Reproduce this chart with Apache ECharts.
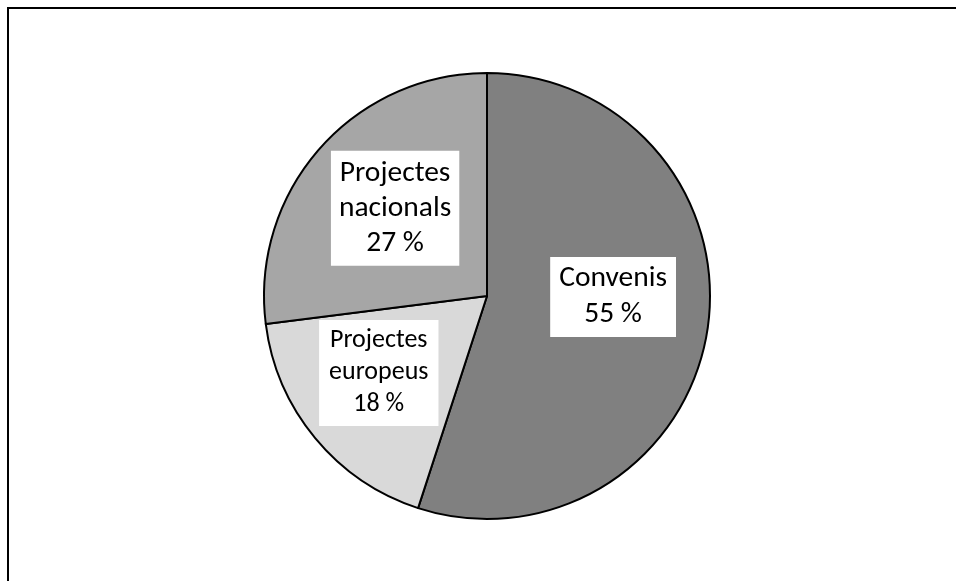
<!DOCTYPE html>
<html>
<head>
<meta charset="utf-8">
<script src="https://cdn.jsdelivr.net/npm/echarts@6/dist/echarts.min.js"></script>
<style>
html,body{margin:0;padding:0;background:#fff;}
#chart{width:956px;height:581px;}
</style>
</head>
<body>
<div id="chart"></div>
<script>
const categories = ['Convenis', 'Projectes europeus', 'Projectes nacionals'];
const labelTexts = ['Convenis', 'Projectes\neuropeus', 'Projectes\nnacionals'];
const values = [55, 18, 27];
const colors = ['#808080', '#d9d9d9', '#a6a6a6'];
const labelOffsets = [[13, -17], [-20, 4], [-6, -12]];
const labelFontSizes = [29.5, 26, 29.5];
const labelLineHeights = [36, 32, 35];
const labelPaddings = [[4, 9, 4, 9], [5, 10, 5, 10], [5, 8, 5, 8]];

const chart = echarts.init(document.getElementById('chart'), null, {renderer: 'canvas'});
const data = categories.map((c, i) => ({
  name: c,
  value: values[i],
  itemStyle: {color: colors[i]},
  label: {
    offset: labelOffsets[i],
    fontSize: labelFontSizes[i],
    lineHeight: labelLineHeights[i],
    padding: labelPaddings[i]
  }
}));
chart.setOption({
  animation: false,
  backgroundColor: '#ffffff',
  graphic: [{
    type: 'polyline',
    shape: {points: [[8, 581], [8, 8], [956, 8]]},
    style: {stroke: '#000', lineWidth: 2, fill: null},
    silent: true
  }],
  series: [{
    type: 'pie',
    center: [487, 296],
    radius: 223,
    startAngle: 90,
    clockwise: true,
    avoidLabelOverlap: false,
    itemStyle: {borderColor: '#000', borderWidth: 2},
    label: {
      show: true,
      position: 'inside',
      formatter: (p) => labelTexts[p.dataIndex] + '\n' + p.value + ' %',
      color: '#000',
      fontFamily: 'Carlito, Lato, sans-serif',
      backgroundColor: '#ffffff',
      align: 'center'
    },
    labelLine: {show: false},
    emphasis: {disabled: true},
    data: data
  }]
});
</script>
</body>
</html>
